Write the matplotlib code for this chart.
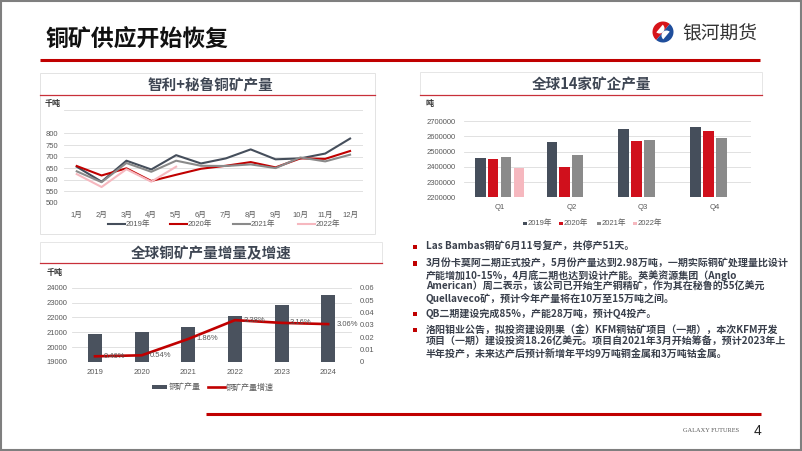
import matplotlib
matplotlib.use("Agg")
import matplotlib.pyplot as plt
from matplotlib.patches import Rectangle, Wedge

plt.rcParams['font.family'] = ['Liberation Sans', 'Noto Sans CJK SC', 'DejaVu Sans']

# ---- data ----
months = ['1月', '2月', '3月', '4月', '5月', '6月', '7月', '8月', '9月', '10月', '11月', '12月']
cl_pe_2019 = [656, 591, 682, 644, 706, 670, 692, 731, 688, 692, 713, 778]
cl_pe_2020 = [659, 618, 649, 594, 621, 647, 660, 676, 653, 692, 690, 724]
cl_pe_2021 = [636, 589, 672, 634, 682, 660, 659, 666, 650, 696, 679, 708]
cl_pe_2022 = [624, 568, 645, 591, 656]
series_names = ['2019年', '2020年', '2021年', '2022年']

quarters = ['Q1', 'Q2', 'Q3', 'Q4']
q_2019 = [2460000, 2560000, 2648000, 2661000]
q_2020 = [2449000, 2401000, 2569000, 2634000]
q_2021 = [2463000, 2475000, 2578000, 2586000]
q_2022 = [2394000]

years = ['2019', '2020', '2021', '2022', '2023', '2024']
world_output = [20870, 20990, 21380, 22110, 22810, 23510]
world_growth = [0.0046, 0.0054, 0.0186, 0.0338, 0.0316, 0.0306]

bullets = [
    ["Las Bambas铜矿6月11号复产，共停产51天。"],
    ["3月份卡莫阿二期正式投产，5月份产量达到2.98万吨，一期实际铜矿处理量比设计",
     "产能增加10-15%，4月底二期也达到设计产能。英美资源集团（Anglo",
     "American）周二表示，该公司已开始生产铜精矿，作为其在秘鲁的55亿美元",
     "Quellaveco矿，预计今年产量将在10万至15万吨之间。"],
    ["QB二期建设完成85%，产能28万吨，预计Q4投产。"],
    ["洛阳钼业公告，拟投资建设刚果（金）KFM铜钴矿项目（一期），本次KFM开发",
     "项目（一期）建设投资18.26亿美元。项目自2021年3月开始筹备，预计2023年上",
     "半年投产，未来达产后预计新增年平均9万吨铜金属和3万吨钴金属。"],
]

# ---- palette ----
RED = "#C00000"
SLATE = "#454E5B"
GRAY = "#8A8A8A"
PINK = "#F6B8BF"
BRED = "#D0101C"
TICK = "#595959"
GRID = "#DCDCDC"
TITLE_C = "#3E4653"

W, H = 802, 451
fig = plt.figure(figsize=(W / 100, H / 100), dpi=100)


def rect(x0, y0, x1, y1):
    return [x0 / W, 1 - y1 / H, (x1 - x0) / W, (y1 - y0) / H]


bg = fig.add_axes([0, 0, 1, 1])
bg.set_xlim(0, W)
bg.set_ylim(H, 0)
bg.axis("off")

# frame + header
bg.add_patch(Rectangle((1, 1), W - 2, H - 2, fill=False, edgecolor="#7F7F7F", lw=1.5))
bg.text(45, 40, "铜矿供应开始恢复", fontsize=16.5, fontweight="heavy", color="#111111",
        va="center", ha="left", family=["Noto Sans CJK SC"])
bg.plot([40, 760], [60, 60], color=RED, lw=2.2, solid_capstyle="butt")
bg.plot([206, 761], [414, 414], color=RED, lw=2.2, solid_capstyle="butt")
bg.text(683, 431, "GALAXY FUTURES", fontsize=4.6, color=TICK, va="center", ha="left",
        family=["Liberation Serif"])
bg.text(757, 431, "4", fontsize=10, color="#222222", va="center", ha="center")

# logo
bg.add_patch(Wedge((663, 32), 10.5, 130, 310, facecolor="#D7141A", edgecolor="none"))
bg.add_patch(Wedge((663, 32), 10.5, -50, 130, facecolor="#1F4E9C", edgecolor="none"))
bg.add_patch(Wedge((659.5, 28.5), 5, -50, 130, facecolor="white", edgecolor="none"))
bg.add_patch(Wedge((666.5, 35.5), 5, 130, 310, facecolor="white", edgecolor="none"))
bg.text(682, 34, "银河期货", fontsize=13.5, color="#333333", va="center", ha="left",
        family=["Noto Sans CJK SC"])

# panel frames
bg.add_patch(Rectangle((40, 73), 335, 161, fill=False, edgecolor="#E3E3E3", lw=0.7))
bg.add_patch(Rectangle((420, 72), 342, 23, fill=False, edgecolor="#E6E6E6", lw=0.7))
bg.add_patch(Rectangle((40, 242), 342, 21, fill=False, edgecolor="#E6E6E6", lw=0.7))
bg.plot([40, 375], [95, 95], color="#C8303A", lw=0.9)
bg.plot([420, 762], [95, 95], color="#C8303A", lw=0.9)
bg.plot([40, 382], [263, 263], color="#C8303A", lw=0.9)

tkw = dict(fontsize=10.5, fontweight="bold", color=TITLE_C, ha="center", va="center",
           family=["Noto Sans CJK SC"])
bg.text(210, 85, "智利+秘鲁铜矿产量", **tkw)
bg.text(592, 84.5, "全球14家矿企产量", **tkw)
bg.text(211, 253, "全球铜矿产量增量及增速", **tkw)
ukw = dict(fontsize=5.8, color="#333333", fontweight="bold", ha="left", va="center",
           family=["Noto Sans CJK SC"])
bg.text(45, 103.5, "千吨", **ukw)
bg.text(426, 103.5, "吨", **ukw)
bg.text(47, 272, "千吨", **ukw)


def style(ax):
    for s in ax.spines.values():
        s.set_visible(False)
    ax.tick_params(length=0, labelsize=5.5, labelcolor=TICK)
    ax.set_facecolor("none")


# ---- chart 1: Chile + Peru monthly ----
ax1 = fig.add_axes(rect(64.3, 110.4, 362.5, 202.7))
style(ax1)
x = list(range(len(months)))
for vals, c, name in [(cl_pe_2019, SLATE, series_names[0]), (cl_pe_2020, RED, series_names[1]),
                      (cl_pe_2021, GRAY, series_names[2]), (cl_pe_2022, PINK, series_names[3])]:
    ax1.plot(x[:len(vals)], vals, color=c, lw=1.5, zorder=3)
ax1.set_xlim(-0.5, 11.5)
ax1.set_ylim(500, 900)
ax1.set_yticks([500, 550, 600, 650, 700, 750, 800])
for gy in [500, 550, 600, 650, 700, 750, 800, 900]:
    ax1.axhline(gy, color=GRID, lw=0.6, zorder=1)
ax1.set_xticks(x)
ax1.set_xticklabels(months)
ax1.tick_params(axis="y", pad=4.5)
ax1.tick_params(axis="x", pad=6.5)

# legend chart 1
for (lx, c, name) in [(108, SLATE, series_names[0]), (170, RED, series_names[1]),
                      (233, GRAY, series_names[2]), (298, PINK, series_names[3])]:
    bg.plot([lx, lx + 17], [224, 224], color=c, lw=1.5)
    bg.text(lx + 17.5, 224.5, name, fontsize=5.5, color=TICK, va="center", ha="left")

# ---- chart 2: 14 miners quarterly ----
ax2 = fig.add_axes(rect(463.6, 121, 750.9, 197.3))
style(ax2)
step, bw = 0.18, 0.15
for k, (vals, c) in enumerate([(q_2019, SLATE), (q_2020, BRED), (q_2021, GRAY), (q_2022, PINK)]):
    xs = [i + (k - 1.5) * step for i in range(len(vals))]
    ax2.bar(xs, vals, width=bw, color=c, zorder=3)
ax2.set_xlim(-0.5, 3.5)
ax2.set_ylim(2200000, 2700000)
ax2.set_yticks(range(2200000, 2700001, 100000))
ax2.set_yticklabels([str(v) for v in range(2200000, 2700001, 100000)])
ax2.grid(axis="y", color=GRID, lw=0.6, zorder=1)
ax2.set_xticks(range(len(quarters)))
ax2.set_xticklabels(quarters)
ax2.tick_params(axis="y", pad=6)
ax2.tick_params(axis="x", pad=4.5)

for (lx, c, name) in [(523, SLATE, series_names[0]), (559, BRED, series_names[1]),
                      (597, GRAY, series_names[2]), (633, PINK, series_names[3])]:
    bg.add_patch(Rectangle((lx, 221.5), 3.5, 3.5, facecolor=c, edgecolor="none"))
    bg.text(lx + 5, 223.5, name, fontsize=5.5, color=TICK, va="center", ha="left")

# ---- chart 3: global output & growth ----
ax3 = fig.add_axes(rect(71.7, 287.7, 351.5, 362))
style(ax3)
xi = list(range(len(years)))
ax3.bar(xi, world_output, width=0.3, color="#4A525E", zorder=3)
ax3.set_xlim(-0.5, 5.5)
ax3.set_ylim(19000, 24000)
ax3.set_yticks(range(19000, 24001, 1000))
ax3.grid(axis="y", color=GRID, lw=0.6, zorder=1)
ax3.set_xticks(xi)
ax3.set_xticklabels(years)
ax3.tick_params(axis="y", pad=3.4)
ax3.tick_params(axis="x", pad=4.7)

ax3b = ax3.twinx()
style(ax3b)
ax3b.plot(xi, world_growth, color=RED, lw=1.9, zorder=4)
ax3b.set_ylim(0, 0.06)
ax3b.set_yticks([0, 0.01, 0.02, 0.03, 0.04, 0.05, 0.06])
ax3b.set_yticklabels(["0", "0.01", "0.02", "0.03", "0.04", "0.05", "0.06"])
ax3b.tick_params(axis="y", pad=6)
for i, g in zip(xi, world_growth):
    ax3b.annotate(f"{g * 100:.2f}%", (i, g), xytext=(6, 0), textcoords="offset points",
                  fontsize=5.5, color=TICK, va="center", ha="left", zorder=5)

bg.add_patch(Rectangle((152, 385), 15, 4, facecolor="#4A525E", edgecolor="none"))
bg.text(168.5, 387.5, "铜矿产量", fontsize=5.8, color=TICK, va="center", ha="left")
bg.plot([208, 225], [387, 387], color=RED, lw=1.9)
bg.text(226, 387.5, "铜矿产量增速", fontsize=5.8, color=TICK, va="center", ha="left")

# ---- bullet text ----
ys = [[246.7], [263.3, 275, 286.7, 298.3], [314], [330, 341.7, 353.3]]
for para, yy in zip(bullets, ys):
    bg.add_patch(Rectangle((413, yy[0] - 2.2), 4.4, 4.4, facecolor=RED, edgecolor="none"))
    for line, y in zip(para, yy):
        bg.text(426, y, line, fontsize=7.2, fontweight="bold", color="#3A404C",
                va="center", ha="left", family=["Noto Sans CJK SC"])

fig.savefig("out.png", dpi=100, facecolor="white")
